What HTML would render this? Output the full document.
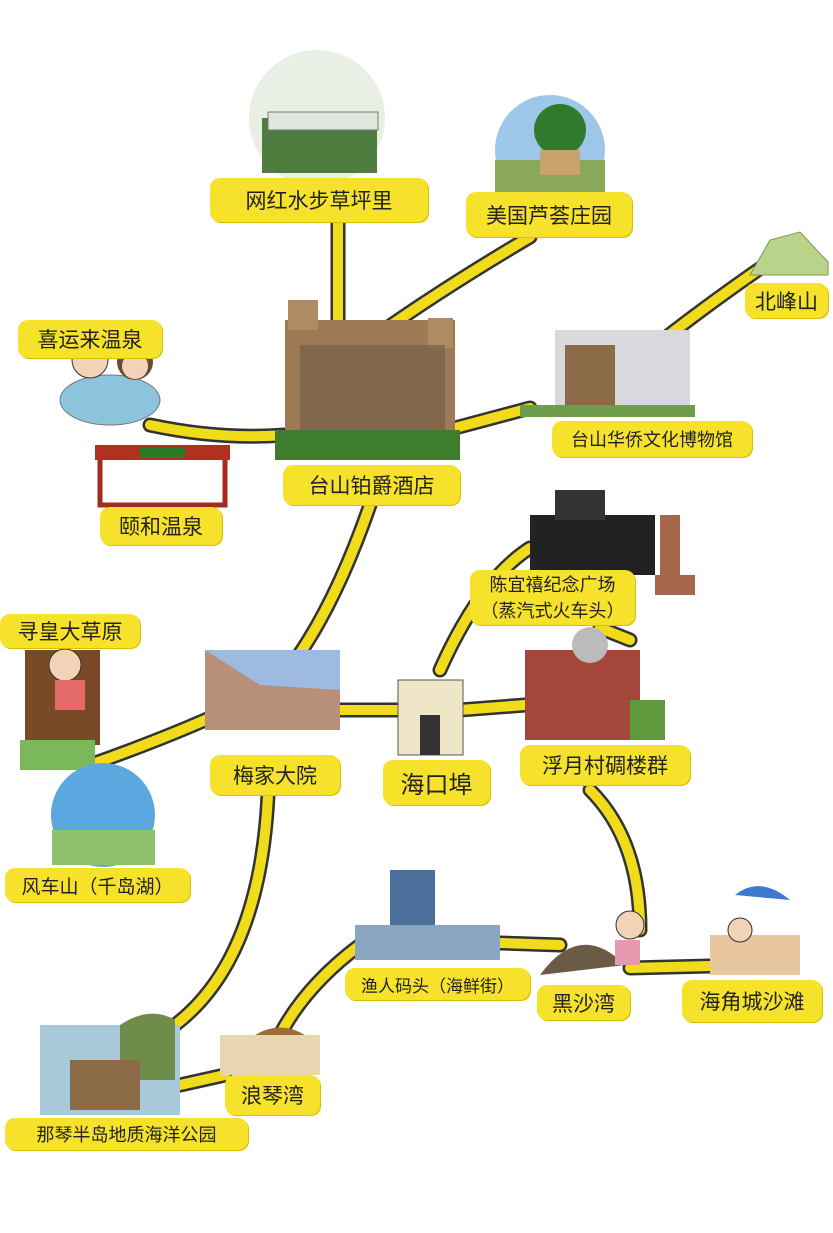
<!DOCTYPE html>
<html><head><meta charset="utf-8"><style>
body{margin:0;width:833px;height:1233px;background:#fff;position:relative;overflow:hidden;font-family:"Liberation Sans","Noto Sans CJK SC",sans-serif}
.l{position:absolute;background:#f6e22b;border-radius:10px;color:#222;display:flex;align-items:center;justify-content:center;font-size:21px;white-space:nowrap;box-shadow:1px 1px 0 #d8c000}
svg{position:absolute;left:0;top:0}
</style></head><body>
<svg width="833" height="1233">
<g fill="none" stroke-linecap="round" stroke-linejoin="round">
<g stroke="#333" stroke-width="15">
<path d="M338 222 L338 320"/><path d="M530 237 Q440 290 370 340"/><path d="M765 265 Q700 310 650 350"/>
<path d="M530 408 L455 428"/><path d="M150 425 Q220 440 285 435"/>
<path d="M370 505 Q330 620 280 680"/><path d="M90 765 Q160 740 212 717"/>
<path d="M340 710 L400 710"/><path d="M460 710 L525 705"/><path d="M440 670 Q480 580 530 548"/>
<path d="M600 628 L630 640"/><path d="M590 790 Q640 840 640 930"/><path d="M630 968 L710 966"/>
<path d="M500 943 L560 945"/><path d="M360 945 Q300 990 275 1045"/><path d="M268 795 Q260 960 175 1025"/>
<path d="M225 1075 L180 1085"/></g>
<g stroke="#f1dc1c" stroke-width="10">
<path d="M338 222 L338 320"/><path d="M530 237 Q440 290 370 340"/><path d="M765 265 Q700 310 650 350"/>
<path d="M530 408 L455 428"/><path d="M150 425 Q220 440 285 435"/>
<path d="M370 505 Q330 620 280 680"/><path d="M90 765 Q160 740 212 717"/>
<path d="M340 710 L400 710"/><path d="M460 710 L525 705"/><path d="M440 670 Q480 580 530 548"/>
<path d="M600 628 L630 640"/><path d="M590 790 Q640 840 640 930"/><path d="M630 968 L710 966"/>
<path d="M500 943 L560 945"/><path d="M360 945 Q300 990 275 1045"/><path d="M268 795 Q260 960 175 1025"/>
<path d="M225 1075 L180 1085"/></g>
</g>
<!-- images -->
<circle cx="317" cy="118" r="68" fill="#e9efe4"/><rect x="262" y="118" width="115" height="55" fill="#4f7d3f"/><rect x="268" y="112" width="110" height="18" fill="#dfe6dc" stroke="#777"/>
<circle cx="550" cy="150" r="55" fill="#9dc7e8"/><rect x="495" y="160" width="110" height="32" fill="#8aa85a"/><circle cx="560" cy="130" r="26" fill="#2f7a2c"/><rect x="540" y="150" width="40" height="25" fill="#c9a36e"/>
<path d="M750 275 L770 240 L800 232 L828 262 L828 275Z" fill="#b9d48a" stroke="#7a9a55"/>
<rect x="285" y="320" width="170" height="125" fill="#9c7a55"/><rect x="288" y="300" width="30" height="30" fill="#b08a62"/><rect x="428" y="318" width="25" height="30" fill="#b08a62"/><rect x="300" y="345" width="145" height="85" fill="#6f5a44" opacity=".6"/><rect x="275" y="430" width="185" height="30" fill="#3f7d2e"/>
<rect x="555" y="330" width="135" height="85" fill="#d7d9dd"/><rect x="565" y="345" width="50" height="60" fill="#8b6a48"/><rect x="520" y="405" width="175" height="12" fill="#6f9d4c"/>
<ellipse cx="110" cy="400" rx="50" ry="25" fill="#8cc4de" stroke="#777"/><circle cx="90" cy="360" r="18" fill="#f3d3b8" stroke="#333"/><circle cx="135" cy="362" r="18" fill="#6b4a34"/><circle cx="135" cy="366" r="13" fill="#f3d3b8"/>
<rect x="100" y="455" width="125" height="50" fill="#fff" stroke="#a52a20" stroke-width="5"/><rect x="95" y="445" width="135" height="15" fill="#b23022"/><rect x="140" y="448" width="45" height="10" fill="#2a7a2a"/>
<rect x="530" y="515" width="125" height="60" fill="#222"/><rect x="555" y="490" width="50" height="30" fill="#333"/><rect x="660" y="515" width="20" height="60" fill="#a7674c"/><rect x="655" y="575" width="40" height="20" fill="#a7674c"/>
<rect x="25" y="650" width="75" height="95" fill="#7a4a28"/><circle cx="65" cy="665" r="16" fill="#f3d3b8" stroke="#333"/><rect x="55" y="680" width="30" height="30" fill="#e56a6a"/><rect x="20" y="740" width="75" height="30" fill="#7ab85a"/>
<rect x="205" y="650" width="135" height="80" fill="#9dbbe0"/><path d="M205 650 L260 685 L340 690 L340 730 L205 730Z" fill="#b88f78"/>
<rect x="398" y="680" width="65" height="75" fill="#efe6c8" stroke="#555"/><rect x="420" y="715" width="20" height="40" fill="#333"/>
<rect x="525" y="650" width="115" height="90" fill="#a4473a"/><circle cx="590" cy="645" r="18" fill="#bbb"/><rect x="630" y="700" width="35" height="40" fill="#5f9a3f"/>
<circle cx="103" cy="815" r="52" fill="#5aa8df"/><rect x="52" y="830" width="103" height="35" fill="#8fc26a"/>
<rect x="390" y="870" width="45" height="60" fill="#4b6f9a"/><rect x="355" y="925" width="145" height="35" fill="#8aa5bf"/>
<path d="M540 975 Q580 920 625 965Z" fill="#6b5a46"/><circle cx="630" cy="925" r="14" fill="#f3d3b8" stroke="#333"/><rect x="615" y="940" width="25" height="25" fill="#e59ab0"/>
<path d="M735 895 Q760 875 790 900Z" fill="#3a7ad0"/><rect x="710" y="935" width="90" height="40" fill="#e8c7a0"/><circle cx="740" cy="930" r="12" fill="#f3d3b8" stroke="#333"/>
<rect x="40" y="1025" width="140" height="90" fill="#a7c9d9"/><path d="M120 1025 Q150 1005 175 1020 L175 1080 L120 1080Z" fill="#6f8d4a"/><rect x="70" y="1060" width="70" height="50" fill="#8b6b48"/>
<rect x="220" y="1035" width="100" height="40" fill="#e8d6b0"/><path d="M255 1035 Q280 1020 305 1035Z" fill="#a06a38"/>
</svg>
<div class="l" style="left:210px;top:178px;width:218px;height:44px">网红水步草坪里</div>
<div class="l" style="left:466px;top:192px;width:166px;height:45px">美国芦荟庄园</div>
<div class="l" style="left:745px;top:283px;width:83px;height:35px">北峰山</div>
<div class="l" style="left:18px;top:320px;width:144px;height:38px">喜运来温泉</div>
<div class="l" style="left:552px;top:421px;width:200px;height:36px;font-size:18px">台山华侨文化博物馆</div>
<div class="l" style="left:283px;top:465px;width:177px;height:40px">台山铂爵酒店</div>
<div class="l" style="left:100px;top:507px;width:122px;height:38px">颐和温泉</div>
<div class="l" style="left:470px;top:570px;width:165px;height:55px;flex-direction:column;font-size:18px;line-height:26px"><span>陈宜禧纪念广场</span><span>（蒸汽式火车头）</span></div>
<div class="l" style="left:0;top:614px;width:140px;height:34px">寻皇大草原</div>
<div class="l" style="left:210px;top:755px;width:130px;height:40px">梅家大院</div>
<div class="l" style="left:383px;top:760px;width:107px;height:45px;font-size:24px">海口埠</div>
<div class="l" style="left:520px;top:745px;width:170px;height:40px">浮月村碉楼群</div>
<div class="l" style="left:5px;top:868px;width:185px;height:34px;font-size:19px">风车山（千岛湖）</div>
<div class="l" style="left:345px;top:968px;width:185px;height:32px;font-size:17px">渔人码头（海鲜街）</div>
<div class="l" style="left:537px;top:985px;width:93px;height:35px">黑沙湾</div>
<div class="l" style="left:682px;top:980px;width:140px;height:42px">海角城沙滩</div>
<div class="l" style="left:225px;top:1075px;width:95px;height:40px">浪琴湾</div>
<div class="l" style="left:5px;top:1118px;width:243px;height:32px;font-size:18px">那琴半岛地质海洋公园</div>
</body></html>
